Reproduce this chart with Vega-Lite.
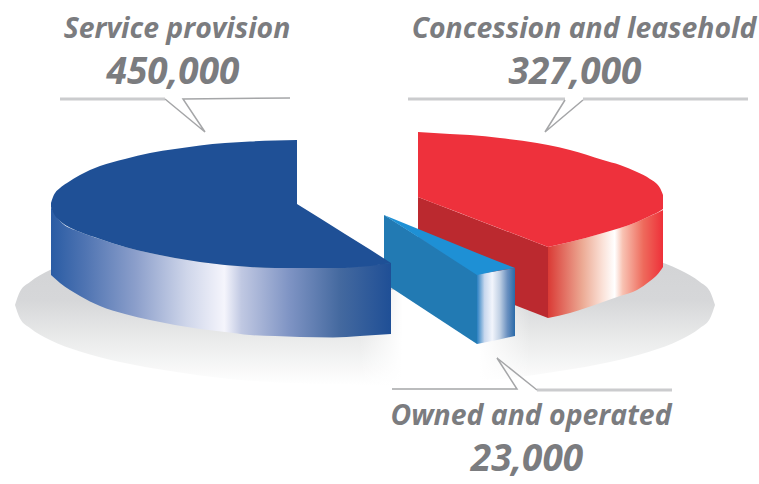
{
  "$schema": "https://vega.github.io/schema/vega-lite/v6.json",
  "width": 759,
  "height": 484,
  "padding": 0,
  "autosize": {"type": "fit", "contains": "padding"},
  "background": "white",
  "view": {"stroke": null},
  "datasets": {
    "shadow": [
      {"x":15,"y":305,"y2":305},{"x":20,"y":291.5,"y2":318.5},{"x":30,"y":282,"y2":328},{"x":50,"y":270,"y2":340},
      {"x":80,"y":258.5,"y2":351.5},{"x":120,"y":248,"y2":362},{"x":170,"y":239,"y2":371},{"x":230,"y":231,"y2":379},
      {"x":300,"y":250,"y2":383.6},{"x":365,"y":270,"y2":385},{"x":391,"y":285,"y2":385},{"x":430,"y":295,"y2":383.6},{"x":500,"y":295,"y2":379},
      {"x":560,"y":250,"y2":371},{"x":610,"y":248,"y2":362},{"x":650,"y":258.5,"y2":351.5},{"x":680,"y":270,"y2":340},
      {"x":700,"y":282,"y2":328},{"x":710,"y":291.5,"y2":318.5},{"x":715,"y":305,"y2":305}
    ],
    "shadowGap": [
      {"x":360,"y":290,"y2":392},{"x":530,"y":290,"y2":392}
    ],
    "concessionCut": [{"x":418,"y":197,"y2":268},{"x":548,"y":247,"y2":318}],
    "concessionRim": [
      {"x":548,"y":247,"y2":318},{"x":570,"y":242,"y2":313},{"x":603,"y":233,"y2":302},{"x":620,"y":228,"y2":296},
      {"x":637,"y":222,"y2":290},{"x":650,"y":216,"y2":281},{"x":657,"y":213,"y2":275},{"x":663,"y":210,"y2":267}
    ],
    "concessionTopInner": [
      {"x":418,"y":132,"y2":197},{"x":450,"y":134,"y2":209.3},{"x":470,"y":135,"y2":217},
      {"x":500,"y":138,"y2":228.5},{"x":537,"y":143,"y2":242.8},{"x":548,"y":145,"y2":247}
    ],
    "concessionTopOuter": [
      {"x":548,"y":145,"y2":247},{"x":570,"y":150,"y2":242},
      {"x":603,"y":160,"y2":233},{"x":620,"y":165,"y2":228},{"x":637,"y":172,"y2":222},{"x":650,"y":179,"y2":216},
      {"x":660,"y":188,"y2":211},{"x":663,"y":195,"y2":209}
    ],
    "ownedCut": [{"x":384,"y":215,"y2":283},{"x":477,"y":274,"y2":344}],
    "ownedRim": [{"x":477,"y":274,"y2":344},{"x":497,"y":271,"y2":340},{"x":515,"y":268,"y2":336}],
    "ownedTop": [{"x":384,"y":215,"y2":215},{"x":477,"y":253,"y2":275},{"x":497,"y":261,"y2":271},{"x":515,"y":268,"y2":268}],
    "serviceRim": [
      {"x":51,"y":207,"y2":275},{"x":60,"y":221,"y2":283},{"x":80,"y":232,"y2":296},{"x":100,"y":239,"y2":306},
      {"x":125,"y":247,"y2":314},{"x":150,"y":253,"y2":320},{"x":175,"y":258,"y2":325},{"x":200,"y":262,"y2":329},
      {"x":225,"y":265,"y2":332},{"x":250,"y":267,"y2":335},{"x":275,"y":268,"y2":336},{"x":300,"y":268,"y2":337},
      {"x":333,"y":268,"y2":337.5},{"x":360,"y":266,"y2":336},{"x":391,"y":263,"y2":334}
    ],
    "serviceTopArc": [
      {"x":51,"y":203,"y2":207},{"x":53,"y":197,"y2":212},{"x":60,"y":188,"y2":221},{"x":67,"y":183,"y2":226},
      {"x":80,"y":175,"y2":232},{"x":100,"y":166,"y2":239},{"x":125,"y":159,"y2":247},{"x":150,"y":153,"y2":253},
      {"x":175,"y":149,"y2":258},{"x":200,"y":145.5,"y2":262},{"x":225,"y":143,"y2":265},{"x":250,"y":141.5,"y2":267},
      {"x":275,"y":140.5,"y2":268},{"x":297,"y":140,"y2":268}
    ],
    "serviceTopCut": [
      {"x":297,"y":204,"y2":268},{"x":320,"y":218.3,"y2":268},
      {"x":345,"y":234,"y2":268},{"x":370,"y":249.5,"y2":266},{"x":391,"y":263,"y2":263}
    ],
    "leadersBroad": [
      {"slice":"Service provision","seq":1,"x":60,"y":99},{"slice":"Service provision","seq":2,"x":165,"y":99},
      {"slice":"Concession and leasehold","seq":1,"x":408,"y":99},{"slice":"Concession and leasehold","seq":2,"x":565,"y":99},
      {"slice":"Concession right","seq":1,"x":583,"y":99},{"slice":"Concession right","seq":2,"x":748,"y":99},
      {"slice":"Owned and operated","seq":1,"x":537,"y":390},{"slice":"Owned and operated","seq":2,"x":672,"y":390}
    ],
    "leadersFine": [
      {"slice":"Service provision","seq":1,"x":165,"y":99},{"slice":"Service provision","seq":2,"x":205,"y":132},
      {"slice":"Service provision","seq":3,"x":183,"y":99},{"slice":"Service provision","seq":4,"x":290,"y":98},
      {"slice":"Concession and leasehold","seq":1,"x":565,"y":100},{"slice":"Concession and leasehold","seq":2,"x":545,"y":132},
      {"slice":"Concession and leasehold","seq":3,"x":583,"y":100},
      {"slice":"Owned and operated","seq":1,"x":392,"y":389},{"slice":"Owned and operated","seq":2,"x":517,"y":389},
      {"slice":"Owned and operated","seq":3,"x":497,"y":358},{"slice":"Owned and operated","seq":4,"x":537,"y":390}
    ],
    "labels": [
      {"slice":"Service provision","value":450000,"x":177,"y":38,"vx":173,"vy":84},
      {"slice":"Concession and leasehold","value":327000,"x":584,"y":38,"vx":575,"vy":84},
      {"slice":"Owned and operated","value":23000,"x":531,"y":425,"vx":527,"vy":471}
    ]
  },
  "encoding": {
    "x": {"field":"x","type":"quantitative","axis":null,"scale":{"domain":[0,759],"nice":false,"zero":false}},
    "y": {"field":"y","type":"quantitative","axis":null,"scale":{"domain":[484,0],"nice":false,"zero":false}}
  },
  "layer": [
    {
      "data": {"name":"shadow"},
      "mark": {"type":"area","orient":"vertical","interpolate":"monotone","fill":{"gradient":"linear","x1":0,"x2":0,"y1":0,"y2":1,
        "stops":[{"offset":0,"color":"#d0d1d3"},{"offset":0.45,"color":"#d6d7d9"},{"offset":0.72,"color":"#ebecec"},{"offset":1,"color":"#ffffff"}]}},
      "encoding": {"y2":{"field":"y2"}}
    },
    {
      "data": {"name":"shadowGap"},
      "mark": {"type":"area","orient":"vertical","fill":{"gradient":"linear","x1":0,"x2":1,"y1":0,"y2":0,
        "stops":[{"offset":0,"color":"rgba(255,255,255,0)"},{"offset":0.25,"color":"rgba(255,255,255,1)"},{"offset":0.7,"color":"rgba(255,255,255,1)"},{"offset":1,"color":"rgba(255,255,255,0)"}]}},
      "encoding": {"y2":{"field":"y2"}}
    },
    {
      "data": {"name":"concessionCut"},
      "mark": {"type":"area","orient":"vertical","fill":"#bb292f"},
      "encoding": {"y2":{"field":"y2"}}
    },
    {
      "data": {"name":"concessionRim"},
      "mark": {"type":"area","orient":"vertical","interpolate":"monotone","fill":{"gradient":"linear","x1":0,"x2":1,"y1":0,"y2":0,
        "stops":[{"offset":0,"color":"#da3a35"},{"offset":0.3,"color":"#ecaa94"},{"offset":0.48,"color":"#fbe3da"},{"offset":0.58,"color":"#ffffff"},{"offset":0.65,"color":"#f8c2b2"},{"offset":0.83,"color":"#ee6a5c"},{"offset":1,"color":"#ee3039"}]}},
      "encoding": {"y2":{"field":"y2"}}
    },
    {
      "data": {"name":"concessionTopInner"},
      "mark": {"type":"area","orient":"vertical","interpolate":"monotone","fill":"#ee313c"},
      "encoding": {"y2":{"field":"y2"}}
    },
    {
      "data": {"name":"concessionTopOuter"},
      "mark": {"type":"area","orient":"vertical","interpolate":"monotone","fill":"#ee313c"},
      "encoding": {"y2":{"field":"y2"}}
    },
    {
      "data": {"name":"ownedCut"},
      "mark": {"type":"area","orient":"vertical","fill":"#227ab3"},
      "encoding": {"y2":{"field":"y2"}}
    },
    {
      "data": {"name":"ownedRim"},
      "mark": {"type":"area","orient":"vertical","fill":{"gradient":"linear","x1":0,"x2":1,"y1":0,"y2":0,
        "stops":[{"offset":0,"color":"#2a80c2"},{"offset":0.2,"color":"#c8d8ee"},{"offset":0.4,"color":"#f2f5fc"},{"offset":0.6,"color":"#c0d0e4"},{"offset":0.8,"color":"#6a90c0"},{"offset":1,"color":"#2a6aa8"}]}},
      "encoding": {"y2":{"field":"y2"}}
    },
    {
      "data": {"name":"ownedTop"},
      "mark": {"type":"area","orient":"vertical","fill":"#1e90d5"},
      "encoding": {"y2":{"field":"y2"}}
    },
    {
      "data": {"name":"serviceRim"},
      "mark": {"type":"area","orient":"vertical","interpolate":"monotone","fill":{"gradient":"linear","x1":0,"x2":1,"y1":0,"y2":0,
        "stops":[{"offset":0,"color":"#2a5ca4"},{"offset":0.1,"color":"#4f74b2"},{"offset":0.25,"color":"#8c9fcb"},{"offset":0.4,"color":"#cfd6ea"},{"offset":0.51,"color":"#f5f5fc"},{"offset":0.56,"color":"#c0c8e2"},{"offset":0.7,"color":"#7f94c4"},{"offset":0.85,"color":"#44699f"},{"offset":1,"color":"#1f4f96"}]}},
      "encoding": {"y2":{"field":"y2"}}
    },
    {
      "data": {"name":"serviceTopArc"},
      "mark": {"type":"area","orient":"vertical","interpolate":"monotone","fill":"#1f5096"},
      "encoding": {"y2":{"field":"y2"}}
    },
    {
      "data": {"name":"serviceTopCut"},
      "mark": {"type":"area","orient":"vertical","fill":"#1f5096"},
      "encoding": {"y2":{"field":"y2"}}
    },
    {
      "data": {"name":"leadersBroad"},
      "mark": {"type":"line","color":"#cbccce","strokeWidth":3},
      "encoding": {"detail":{"field":"slice"},"order":{"field":"seq"}}
    },
    {
      "data": {"name":"leadersFine"},
      "mark": {"type":"line","color":"#a5a6a8","strokeWidth":1.5},
      "encoding": {"detail":{"field":"slice"},"order":{"field":"seq"}}
    },
    {
      "data": {"name":"labels"},
      "mark": {"type":"text","align":"center","baseline":"alphabetic","font":"Open Sans","fontWeight":"bold","fontStyle":"italic","fontSize":28.4,"color":"#7b7c7f"},
      "encoding": {"text":{"field":"slice"}}
    },
    {
      "data": {"name":"labels"},
      "mark": {"type":"text","align":"center","baseline":"alphabetic","font":"Open Sans","fontWeight":"bold","fontStyle":"italic","fontSize":37,"color":"#7b7c7f"},
      "encoding": {
        "x":{"field":"vx","type":"quantitative"},
        "y":{"field":"vy","type":"quantitative"},
        "text":{"field":"value","type":"quantitative","format":","}
      }
    }
  ]
}
